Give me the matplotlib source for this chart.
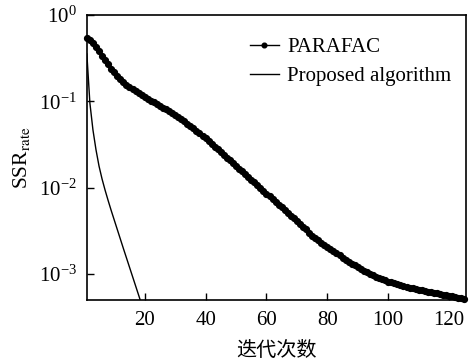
import numpy as np
import matplotlib
matplotlib.use("Agg")
from matplotlib import pyplot as plt
from matplotlib.ticker import LogLocator, NullLocator

plt.rcParams['font.family'] = ['Liberation Serif', 'Noto Sans CJK SC']
plt.rcParams['mathtext.fontset'] = 'stix'

# iterations (x) and log10(SSR_rate)
parafac_iter = np.arange(1, 126)
parafac_log = [
    -0.27, -0.29, -0.32, -0.37, -0.42, -0.47, -0.52, -0.57, -0.62, -0.665,
    -0.708, -0.745, -0.778, -0.808, -0.836, -0.862, -0.885, -0.907, -0.928, -0.949,
    -0.97, -0.99, -1.01, -1.03, -1.051, -1.072, -1.093, -1.115, -1.137, -1.159,
    -1.182, -1.206, -1.231, -1.257, -1.284, -1.312, -1.341, -1.37, -1.399, -1.428,
    -1.46, -1.492, -1.524, -1.556, -1.588, -1.62, -1.652, -1.684, -1.716, -1.748,
    -1.78, -1.812, -1.844, -1.876, -1.908, -1.94, -1.972, -2.004, -2.036, -2.068,
    -2.10, -2.132, -2.164, -2.196, -2.228, -2.26, -2.292, -2.324, -2.356, -2.388,
    -2.42, -2.452, -2.484, -2.52, -2.555, -2.582, -2.609, -2.636, -2.662, -2.688,
    -2.713, -2.738, -2.762, -2.786, -2.81, -2.833, -2.857, -2.88, -2.902, -2.923,
    -2.944, -2.964, -2.983, -3.001, -3.018, -3.034, -3.049, -3.063, -3.076, -3.088,
    -3.099, -3.11, -3.12, -3.13, -3.14, -3.149, -3.158, -3.167, -3.175, -3.183,
    -3.191, -3.198, -3.205, -3.212, -3.219, -3.226, -3.233, -3.24, -3.247, -3.254,
    -3.261, -3.268, -3.275, -3.282, -3.289,
]
proposed_iter = np.arange(1, 20)
proposed_log = [
    -0.45, -1.02, -1.33, -1.56, -1.75, -1.90, -2.03, -2.15, -2.265, -2.375,
    -2.485, -2.595, -2.705, -2.813, -2.921, -3.029, -3.137, -3.245, -3.353,
]

xticks = [20, 40, 60, 80, 100, 120]

fig = plt.figure(figsize=(4.72, 3.6), dpi=100)
ax = fig.add_axes([0.184, 0.167, 0.803, 0.791])

ax.semilogy(parafac_iter, 10.0 ** np.array(parafac_log), '-o', color='black',
            lw=1.0, ms=4.2, label='PARAFAC', clip_on=False)
ax.semilogy(proposed_iter, 10.0 ** np.array(proposed_log), '-', color='black',
            lw=1.0, label='Proposed algorithm')

ax.set_xlim(1, 125.5)
ax.set_ylim(5e-4, 1)
ax.set_xticks(xticks)
ax.yaxis.set_major_locator(LogLocator(base=10, numticks=10))
ax.yaxis.set_minor_locator(NullLocator())
ax.tick_params(direction='in', length=5, width=1, labelsize=15)
ax.tick_params(axis='x', pad=8)
ax.tick_params(axis='y', pad=7)
for sp in ax.spines.values():
    sp.set_linewidth(1.2)

ax.set_xlabel('迭代次数', fontsize=14.5, family='Noto Sans CJK SC', labelpad=7.5)
ax.set_ylabel(r'SSR$_{\rm rate}$', fontsize=15.5, labelpad=5)

leg = ax.legend(loc='upper right', frameon=False, fontsize=15, numpoints=1,
                handlelength=1.4, handletextpad=0.4, labelspacing=0.45,
                bbox_to_anchor=(1.0, 0.972), borderaxespad=0.3, markerscale=0.8)

fig.savefig('out.png', dpi=100)
